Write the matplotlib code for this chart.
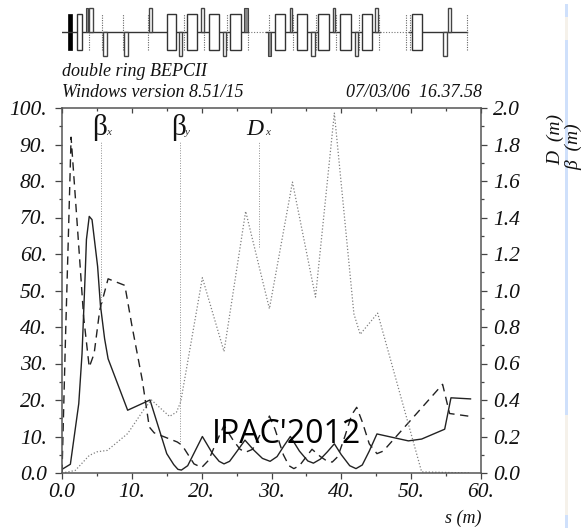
import matplotlib
matplotlib.use("Agg")
import matplotlib.pyplot as plt
from matplotlib.font_manager import FontProperties
from matplotlib.patches import Rectangle

W, H = 583, 528
serif = "Liberation Serif"
plt.rcParams["font.family"] = serif
plt.rcParams["font.style"] = "italic"

solid_s = [0, 1.2, 2.4, 2.87, 3.34, 3.5, 3.9, 4.3, 5.1, 5.5, 6.1, 6.6, 9.4, 12.6, 15.0, 16.0, 16.6, 17.1, 18.0, 20.1, 21.5, 22.5, 23.2, 24.0, 25.0, 26.2, 27.5, 28.7, 29.8, 30.8, 31.8, 32.7, 34.0, 35.2, 36.0, 37.0, 38.0, 39.0, 40.0, 41.2, 42.1, 43.0, 44.0, 45.1, 49.6, 51.5, 54.8, 55.7, 58.5]
solid_v = [1, 2.4, 19, 32.7, 55.5, 64, 70.3, 69.4, 56.6, 46, 36.8, 31.3, 17.2, 20, 5.3, 2.3, 1, 0.8, 2, 10, 5.5, 3.2, 2.5, 3.2, 5.8, 9, 6.2, 4, 3.2, 4.5, 7.5, 10, 6, 3.3, 2.7, 3.8, 5.8, 8, 5, 2, 1.2, 2.2, 6, 10.7, 8.8, 9.3, 12, 20.6, 20.3]
dash_s = [0, 0.5, 0.9, 1.3, 1.9, 2.6, 3.1, 3.9, 4.6, 5.4, 6.6, 9.0, 10.0, 11.5, 12.5, 13.2, 16.5, 17.2, 18.9, 20.0, 21.0, 22.0, 23.2, 24.5, 25.5, 26.3, 27.3, 28.5, 29.7, 30.5, 31.7, 32.5, 33.2, 34.0, 35.0, 35.8, 37.0, 38.0, 38.7, 39.5, 40.5, 41.5, 42.2, 43.0, 44.0, 45.1, 46.0, 54.5, 55.5, 58.5]
dash_v = [0, 37, 64, 92, 75.8, 56.6, 42.7, 29, 32.7, 44.6, 53.2, 51.4, 40.5, 25.4, 12.6, 11, 8.5, 7.6, 2.5, 1.5, 3.5, 8, 13, 9, 6.5, 5.7, 6.5, 11, 15.6, 12, 5, 2, 1.2, 2, 4.5, 6.5, 4.5, 3.2, 3, 4.5, 10, 16, 18, 14, 8, 5.3, 6, 24.3, 16.3, 15.5]
disp_s = [0, 1.9, 3.9, 5.0, 6.5, 9.4, 11.8, 12.8, 15.4, 16.4, 17.0, 20.1, 23.2, 26.3, 29.7, 33.0, 36.3, 39.0, 41.8, 42.7, 45.2, 51.5, 58.5]
disp_v = [0, 0.7, 4.8, 5.8, 6.2, 10.8, 17.6, 20, 15.5, 16.7, 19.5, 53.5, 33.3, 71.7, 45, 79.7, 48.2, 98.6, 43.6, 38, 43.8, 0.3, 0]
leader_s = [5.6, 16.9, 28.2]
leader_low = [46, 8, 62]
leader_top = [91, 91, 91]
curve_names = ["β", "β", "D"]
curve_subs = ["x", "y", "x"]
curve_name_s = [4.3, 15.6, 26.4]
curve_sub_s = [6.3, 17.6, 29.1]
curve_name_size = [21, 21, 17]

x_ticks = [0, 10, 20, 30, 40, 50, 60]
x_labels = ["0.0", "10.", "20.", "30.", "40.", "50.", "60."]
y_ticks = [0, 10, 20, 30, 40, 50, 60, 70, 80, 90, 100]
y_labels = ["0.0", "10.", "20.", "30.", "40.", "50.", "60.", "70.", "80.", "90.", "100."]
r_labels = ["0.0", "0.2", "0.4", "0.6", "0.8", "1.0", "1.2", "1.4", "1.6", "1.8", "2.0"]

# magnet lattice, by longitudinal position
bend_s0 = [2.2, 15.1, 17.9, 21.0, 24.1, 30.5, 33.6, 36.7, 39.8, 42.9, 50.1]
bend_s1 = [2.8, 16.3, 19.3, 22.5, 25.6, 31.95, 35.15, 38.25, 41.35, 44.45, 51.5]
focus_s0 = [3.9, 12.5, 19.9, 32.6, 38.8, 44.85, 55.25]
focus_s1 = [4.4, 12.95, 20.3, 33.0, 39.15, 45.2, 55.7]
focus_dark_s0 = [3.44, 26.1]
focus_dark_s1 = [3.77, 26.6]
defoc_s0 = [5.9, 8.9, 16.76, 23.0, 35.6, 42.0, 54.6]
defoc_s1 = [6.5, 9.5, 17.2, 23.5, 36.25, 42.4, 55.1]
defoc_dark_s0 = [29.45]
defoc_dark_s1 = [29.9]
marker_s = [3.87, 5.75, 8.8, 12.3, 17.4, 20.3, 23.6, 26.7, 29.6, 33.1, 36.4, 39.25, 42.55, 45.4, 49.2, 49.9, 58.0]
inject_s0 = [0.9]
inject_s1 = [1.4]
solid_runs = [(0, 26.7), (29.2, 45.5), (49.7, 58.0)]
dotted_runs = [(26.7, 29.2), (45.5, 49.7)]

fig = plt.figure(figsize=(W / 100, H / 100), dpi=100)
fig.patch.set_facecolor("white")
L, R, T, B = 62, 481, 108, 473
ax = fig.add_axes([L / W, 1 - B / H, (R - L) / W, (B - T) / H])

ax.plot(solid_s, solid_v, color="#222222", lw=1.0)
ax.plot(dash_s, dash_v, color="#222222", lw=1.0, dashes=(6, 4))
ax.plot(disp_s, disp_v, color="#808080", lw=0.9, ls=(0, (1, 1.6)))
ax.vlines(leader_s, leader_low, leader_top, color="#909090", lw=0.7, ls=(0, (1, 1.6)))

ax.set_xlim(0, 60)
ax.set_ylim(0, 100)
for sp in ax.spines.values():
    sp.set_color("#555555")
    sp.set_linewidth(1.1)
minor_x = list(range(5, 60, 10))
ax.set_xticks(x_ticks, x_labels)
ax.set_yticks(y_ticks, y_labels)
ax.set_xticks(minor_x, minor=True)
ax.set_yticks(list(range(5, 100, 10)), minor=True)
ax.tick_params(axis="x", which="major", length=4.5, width=0.9, direction="out", pad=3, color="#444444", labelcolor="#111111")
ax.tick_params(axis="x", which="minor", length=2.5, width=0.9, direction="out", color="#444444")
ax.tick_params(axis="y", which="major", length=5, width=0.9, direction="out", pad=6, color="#444444", labelcolor="#111111")
ax.tick_params(axis="y", which="minor", length=2.5, width=0.9, direction="out", color="#444444")

top = ax.secondary_xaxis("top")
top.set_xticks(x_ticks, [""] * len(x_ticks))
top.set_xticks(minor_x, minor=True)
top.tick_params(axis="x", which="major", length=3.5, width=0.9, direction="in", color="#444444")
top.tick_params(axis="x", which="minor", length=2.5, width=0.9, direction="in", color="#444444")
top.spines["top"].set_visible(False)

axr = ax.twinx()
axr.set_ylim(0, 2)
axr.set_yticks([v / 50 for v in y_ticks], r_labels)
axr.set_yticks([v / 50 for v in range(5, 100, 10)], minor=True)
axr.tick_params(axis="y", which="major", length=4.5, width=0.9, direction="out", pad=4, color="#444444", labelcolor="#111111")
axr.tick_params(axis="y", which="minor", length=2.5, width=0.9, direction="out", color="#444444")
for sp in axr.spines.values():
    sp.set_visible(False)

tick_font = FontProperties(family=serif, style="italic", size=15.5)
for t in ax.get_xticklabels() + ax.get_yticklabels() + axr.get_yticklabels():
    t.set_fontproperties(tick_font)

for name, sub, s0, s1, fs in zip(curve_names, curve_subs, curve_name_s, curve_sub_s, curve_name_size):
    ax.text(s0, 92.5, name, style="italic" if name == "D" else "normal", fontsize=fs, ha="left", va="baseline", color="#111111")
    ax.text(s1, 92.5, sub, style="italic", fontsize=8, ha="left", va="baseline", color="#333333")

ax.text(32.2, 8.2, "IPAC'2012", family="Open Sans", style="normal", fontsize=23, ha="center", va="baseline", color="black", zorder=6)

# lattice strip
lat = fig.add_axes([L / W, 1 - 60 / H, (R - L) / W, 60 / H])
lat.set_xlim(0, 60)
lat.set_ylim(-28, 32)
lat.axis("off")
for a, b in solid_runs:
    lat.plot([a, b], [0, 0], color="#333333", lw=1)
for a, b in dotted_runs:
    lat.plot([a, b], [0, 0], color="#777777", lw=0.8, ls=(0, (1, 1.5)))
lat.vlines(marker_s, -18, 18, color="#666666", lw=0.8, ls=(0, (1, 1.2)))
for a, b in zip(inject_s0, inject_s1):
    lat.add_patch(Rectangle((a, -18), b - a, 36, fc="black", ec="black", lw=0.5))
for a, b in zip(bend_s0, bend_s1):
    lat.add_patch(Rectangle((a, -18), b - a, 36, fc="white", ec="#333333", lw=1, zorder=3))
for a, b in zip(focus_s0, focus_s1):
    lat.add_patch(Rectangle((a, 0), b - a, 24, fc="white", ec="#444444", lw=1, zorder=3))
for a, b in zip(focus_dark_s0, focus_dark_s1):
    lat.add_patch(Rectangle((a, 0), b - a, 24, fc="#888888", ec="#444444", lw=0.8, zorder=3))
for a, b in zip(defoc_s0, defoc_s1):
    lat.add_patch(Rectangle((a, -24), b - a, 24, fc="white", ec="#444444", lw=1, zorder=3))
for a, b in zip(defoc_dark_s0, defoc_dark_s1):
    lat.add_patch(Rectangle((a, -24), b - a, 24, fc="#888888", ec="#444444", lw=0.8, zorder=3))

fig.text(62 / W, 1 - 76 / H, "double ring BEPCII", fontsize=13, va="baseline", color="#111111")
fig.text(62 / W, 1 - 97 / H, "Windows version 8.51/15", fontsize=13, va="baseline", color="#111111")
fig.text(482 / W, 1 - 97 / H, "07/03/06  16.37.58", fontsize=13, ha="right", va="baseline", color="#111111")
fig.text(463 / W, 1 - 523 / H, "s (m)", fontsize=13, ha="center", va="baseline", color="#111111")
fig.text(564 / W, 1 - 165 / H, "D  (m)", fontsize=14, rotation=90, ha="right", va="bottom", color="#111111")
fig.text(582 / W, 1 - 170 / H, "β  (m)", fontsize=14, rotation=90, ha="right", va="bottom", color="#111111")

strip_y0 = [4, 17, 40, 415, 515]
strip_y1 = [17, 40, 415, 515, 528]
strip_c = ["#cfe0fb", "#f5f1ea", "#cfe0fb", "#f5f1ea", "#cfe0fb"]
for y0, y1, c in zip(strip_y0, strip_y1, strip_c):
    fig.add_artist(Rectangle((565 / W, 1 - y1 / H), 2.5 / W, (y1 - y0) / H, transform=fig.transFigure, fc=c, ec="none"))

fig.savefig("out.png", dpi=100)
